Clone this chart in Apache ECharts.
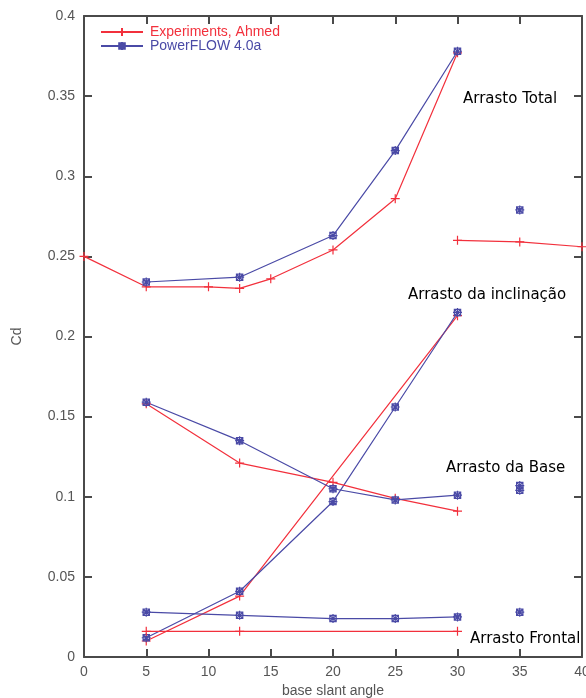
<!DOCTYPE html>
<html>
<head>
<meta charset="utf-8">
<script src="https://cdn.jsdelivr.net/npm/echarts@6/dist/echarts.min.js"></script>
<style>html,body{margin:0;padding:0;background:#fff}#c{width:586px;height:698px}</style>
</head>
<body>
<div id="c"></div>
<script>
// ---- data ----
const xTicks = [0, 5, 10, 15, 20, 25, 30, 35, 40];
const expName = 'Experiments, Ahmed';
const simName = 'PowerFLOW 4.0a';

// Total drag (Arrasto Total)
const totalExpX = [0, 5, 10, 12.5, 15, 20, 25, 30];
const totalExpY = [0.250, 0.231, 0.231, 0.230, 0.236, 0.254, 0.286, 0.377];
const totalExp2X = [30, 35, 40];
const totalExp2Y = [0.260, 0.259, 0.256];
const totalSimX = [5, 12.5, 20, 25, 30];
const totalSimY = [0.234, 0.237, 0.263, 0.316, 0.378];
const totalSim35X = [35];
const totalSim35Y = [0.279];

// Slant drag (Arrasto da inclinação)
const slantExpX = [5, 12.5, 30];
const slantExpY = [0.010, 0.038, 0.213];
const slantSimX = [5, 12.5, 20, 25, 30];
const slantSimY = [0.012, 0.041, 0.097, 0.156, 0.215];

// Base drag (Arrasto da Base)
const baseExpX = [5, 12.5, 20, 25, 30];
const baseExpY = [0.158, 0.121, 0.109, 0.099, 0.091];
const baseSimX = [5, 12.5, 20, 25, 30];
const baseSimY = [0.159, 0.135, 0.105, 0.098, 0.101];
const baseSim35X = [35, 35];
const baseSim35Y = [0.107, 0.104];

// Frontal drag (Arrasto Frontal)
const frontExpX = [5, 12.5, 30];
const frontExpY = [0.016, 0.016, 0.016];
const frontSimX = [5, 12.5, 20, 25, 30];
const frontSimY = [0.028, 0.026, 0.024, 0.024, 0.025];
const frontSim35X = [35];
const frontSim35Y = [0.028];

// annotation labels
const labels = ['Arrasto Total', 'Arrasto da inclinação', 'Arrasto da Base', 'Arrasto Frontal'];

// ---- styling ----
const RED = '#f2303c';
const BLUE = '#4a4aa6';
const plusSym = 'path://M0,5L10,5M5,0L5,10';
const starSym = 'path://M0,5L10,5M5,0L5,10M1.5,1.5L8.5,8.5M1.5,8.5L8.5,1.5M1.5,1.5L8.5,1.5L8.5,8.5L1.5,8.5Z';

function zip(xs, ys) { return xs.map((x, i) => [x, ys[i]]); }
function mk(name, xs, ys, isExp, showLine) {
  const col = isExp ? RED : BLUE;
  return {
    name: name, type: 'line', data: zip(xs, ys),
    symbol: isExp ? plusSym : starSym,
    symbolSize: 9,
    showAllSymbol: true,
    lineStyle: { color: col, width: 1.2, opacity: showLine ? 1 : 0 },
    itemStyle: { color: 'rgba(0,0,0,0)', borderColor: col, borderWidth: 1.2 },
    emphasis: { disabled: true },
    animation: false
  };
}

const series = [
  mk(expName, totalExpX, totalExpY, true, true),
  mk(simName, totalSimX, totalSimY, false, true),
  mk(expName, totalExp2X, totalExp2Y, true, true),
  mk(simName, totalSim35X, totalSim35Y, false, false),
  mk(expName, slantExpX, slantExpY, true, true),
  mk(simName, slantSimX, slantSimY, false, true),
  mk(expName, baseExpX, baseExpY, true, true),
  mk(simName, baseSimX, baseSimY, false, true),
  mk(simName, baseSim35X, baseSim35Y, false, false),
  mk(expName, frontExpX, frontExpY, true, true),
  mk(simName, frontSimX, frontSimY, false, true),
  mk(simName, frontSim35X, frontSim35Y, false, false)
];

const axisLine = { show: true, onZero: false, lineStyle: { color: '#4a4a4a', width: 2 } };
const axisTick = { show: true, inside: true, length: 8, lineStyle: { color: '#4a4a4a', width: 2 } };
const FONT = 'Liberation Sans, Arial, sans-serif';
const labelStyle = { color: '#555', fontFamily: FONT, fontSize: 14 };

const chart = echarts.init(document.getElementById('c'), null, { renderer: 'canvas' });
chart.setOption({
  backgroundColor: '#fff',
  animation: false,
  grid: { left: 84, right: 4, top: 16, bottom: 41, containLabel: false, outerBoundsMode: 'none' },
  legend: {
    orient: 'vertical', left: 100, top: 25, padding: 0,
    itemWidth: 42, itemHeight: 10, itemGap: 0,
    textStyle: { fontFamily: FONT, fontSize: 14, padding: [0, 0, 0, 2] },
    itemStyle: { color: 'rgba(0,0,0,0)' },
    data: [
      { name: expName, textStyle: { color: RED } },
      { name: simName, textStyle: { color: BLUE } }
    ],
    selectedMode: false
  },
  xAxis: [{
    type: 'value', min: 0, max: 40, interval: 5,
    name: 'base slant angle', nameLocation: 'middle', nameGap: 26,
    nameTextStyle: labelStyle,
    axisLine: axisLine, axisTick: axisTick,
    axisLabel: Object.assign({ margin: 8, showMaxLabel: true }, labelStyle),
    splitLine: { show: false }
  }, {
    type: 'value', min: 0, max: 40, interval: 5, position: 'top',
    axisLine: axisLine, axisTick: axisTick, axisLabel: { show: false }, splitLine: { show: false }
  }],
  yAxis: [{
    type: 'value', min: 0, max: 0.4, interval: 0.05,
    name: 'Cd', nameLocation: 'middle', nameGap: 60, nameRotate: 90,
    nameTextStyle: labelStyle,
    axisLine: axisLine, axisTick: axisTick,
    axisLabel: Object.assign({ margin: 9, formatter: v => String(+v.toFixed(2)) }, labelStyle),
    splitLine: { show: false }
  }, {
    type: 'value', min: 0, max: 0.4, interval: 0.05, position: 'right',
    axisLine: axisLine, axisTick: axisTick, axisLabel: { show: false }, splitLine: { show: false }
  }],
  graphic: [
    { type: 'text', left: 463, top: 92, z: 100, style: { text: labels[0], font: '15px "DejaVu Sans"', fill: '#000', backgroundColor: '#fff' } },
    { type: 'text', left: 408, top: 288, z: 100, style: { text: labels[1], font: '15px "DejaVu Sans"', fill: '#000', backgroundColor: '#fff' } },
    { type: 'text', left: 446, top: 461, z: 100, style: { text: labels[2], font: '15px "DejaVu Sans"', fill: '#000', backgroundColor: '#fff' } },
    { type: 'text', left: 470, top: 632, z: 100, style: { text: labels[3], font: '15px "DejaVu Sans"', fill: '#000', backgroundColor: '#fff' } }
  ],
  series: series
});
</script>
</body>
</html>
